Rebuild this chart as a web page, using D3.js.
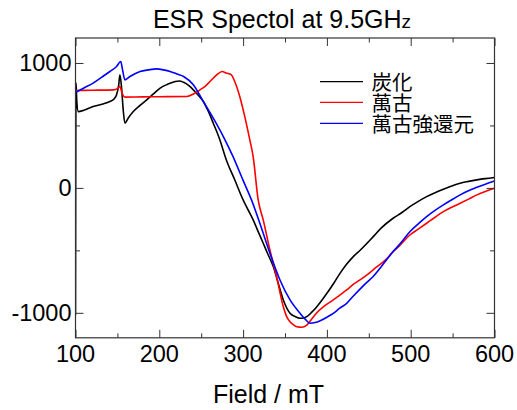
<!DOCTYPE html>
<html><head><meta charset="utf-8">
<script src="https://cdn.jsdelivr.net/npm/d3@7"></script>
<style>
html,body{margin:0;padding:0;background:#fff;}
svg{display:block;}
</style></head>
<body>
<script>
// ---- data ----
const seriesNames = ["炭化", "萬古", "萬古強還元"];
const seriesColors = ["#000000", "#ff0000", "#0000ff"];

const blackField = [100, 100.6, 101.5, 103.3, 110, 121, 133, 141, 146, 149, 151.5, 153, 155, 157, 159, 163, 169, 177, 185, 193, 201, 210, 219, 224, 229, 235, 240.6, 246, 252.5, 258, 264.4, 272, 280, 290, 300, 306, 312, 318, 324, 330, 336, 342, 348, 352, 356, 362, 368, 372, 376, 382, 388, 394, 400, 408, 415.6, 423, 431.5, 440, 448, 455, 465, 479, 490, 499, 509, 519, 529, 539, 549, 559, 569, 579, 589, 600];
const blackValue = [-1020, 841, 700, 611, 622, 651, 672, 692, 712, 745, 820, 905, 800, 620, 518, 560, 611, 660, 705, 752, 799, 830, 852, 856, 845, 820, 785, 745, 692, 620, 518, 390, 224, 65, -96, -176, -256, -350, -443, -537, -630, -765, -897, -960, -1004, -1030, -1044, -1042, -1031, -995, -951, -900, -844, -765, -684, -615, -550, -497, -442, -392, -320, -243, -195, -150, -108, -70, -38, -10, 15, 38, 52, 64, 74, 83];

const redField = [100, 120, 145, 150, 153, 155.5, 159, 180, 200, 233, 240.6, 248.6, 255, 260.5, 268.5, 275, 280, 286, 290, 296, 302, 308, 312, 318, 324, 332, 340, 348, 352, 356, 360, 364, 370, 376, 384, 390, 396, 407.6, 415, 423.6, 431, 439.5, 449, 459, 471, 479, 487, 499, 509, 519, 529, 539, 549, 559, 569, 579, 589, 600];
const redValue = [780, 782, 785, 795, 812, 760, 727, 729, 730, 732, 751, 785, 815, 852, 905, 932, 919, 905, 852, 732, 571, 385, 251, -96, -256, -497, -711, -951, -1030, -1071, -1095, -1111, -1115, -1098, -1031, -985, -951, -897, -860, -817, -775, -737, -690, -635, -570, -510, -460, -377, -330, -283, -235, -190, -155, -123, -90, -56, -28, -2];

const blueField = [100, 110, 121, 131, 141, 149, 154, 156, 159, 165, 177, 187, 197, 205, 213, 221, 229, 240.6, 252.5, 264.4, 276.4, 288, 300, 310, 320, 332, 344, 356, 368, 374, 380, 386, 392, 400, 407.6, 415, 423.6, 431, 439.5, 447, 455, 465, 471, 479, 487, 499, 509, 519, 529, 539, 549, 559, 569, 579, 589, 600];
const blueValue = [764, 800, 839, 885, 932, 972, 1012, 950, 865, 892, 932, 945, 953, 945, 932, 912, 892, 825, 692, 558, 411, 251, 60, -96, -283, -523, -737, -897, -1004, -1050, -1084, -1078, -1063, -1035, -1004, -965, -924, -870, -810, -760, -711, -630, -577, -510, -450, -351, -288, -230, -180, -136, -95, -56, -22, 5, 30, 55];

const xTicksMajor = [100, 200, 300, 400, 500, 600];
const xTicksMinor = [150, 250, 350, 450, 550];
const yTicksMajor = [-1000, 0, 1000];
const yTicksMinor = [-500, 500];
const titleMain = "ESR Spectol at 9.5GH";
const titleTail = "z";
const xLabel = "Field / mT";

// ---- layout ----
const W = 517, H = 410;
const L = 75.5, R = 494.5, T = 38, B = 337.8;
const x = d3.scaleLinear().domain([100, 600]).range([L, R]);
const y = d3.scaleLinear().domain([-1200, 1200]).range([B, T]);

const svg = d3.select("body").append("svg").attr("width", W).attr("height", H);
const sans = "'Liberation Sans', Arial, Helvetica, sans-serif";

// clip
svg.append("clipPath").attr("id", "clip").append("rect")
  .attr("x", L).attr("y", T).attr("width", R - L).attr("height", B - T);

const series = [
  {f: blackField, v: blackValue},
  {f: redField, v: redValue},
  {f: blueField, v: blueValue}
];

const line = d3.line().x(d => x(d[0])).y(d => y(d[1])).curve(d3.curveMonotoneX);
const g = svg.append("g").attr("clip-path", "url(#clip)");
series.forEach((s, i) => {
  const pts = s.f.map((f, j) => [f, s.v[j]]);
  g.append("path").attr("d", line(pts)).attr("fill", "none")
    .attr("stroke", seriesColors[i]).attr("stroke-width", 1.6)
    .attr("stroke-linejoin", "round");
});

// axes (ticks inward)
const axisColor = "#333";
function styleAxis(sel){
  sel.select(".domain").remove();
  sel.selectAll("line").attr("stroke", axisColor).attr("stroke-width", 1);
  sel.selectAll("text").remove();
}
const axes = [
  [d3.axisBottom(x).tickValues(xTicksMajor).tickSizeInner(-8).tickSizeOuter(0), `translate(0,${B})`],
  [d3.axisBottom(x).tickValues(xTicksMinor).tickSizeInner(-4.5).tickSizeOuter(0), `translate(0,${B})`],
  [d3.axisTop(x).tickValues(xTicksMajor).tickSizeInner(-8).tickSizeOuter(0), `translate(0,${T})`],
  [d3.axisTop(x).tickValues(xTicksMinor).tickSizeInner(-4.5).tickSizeOuter(0), `translate(0,${T})`],
  [d3.axisLeft(y).tickValues(yTicksMajor).tickSizeInner(-8).tickSizeOuter(0), `translate(${L},0)`],
  [d3.axisLeft(y).tickValues(yTicksMinor).tickSizeInner(-4.5).tickSizeOuter(0), `translate(${L},0)`],
  [d3.axisRight(y).tickValues(yTicksMajor).tickSizeInner(-8).tickSizeOuter(0), `translate(${R},0)`],
  [d3.axisRight(y).tickValues(yTicksMinor).tickSizeInner(-4.5).tickSizeOuter(0), `translate(${R},0)`]
];
axes.forEach(([ax, tr]) => {
  const a = svg.append("g").attr("transform", tr).call(ax);
  styleAxis(a);
});

// frame
svg.append("rect").attr("x", L).attr("y", T).attr("width", R - L).attr("height", B - T)
  .attr("fill", "none").attr("stroke", axisColor).attr("stroke-width", 1.2);

// tick labels
svg.append("g").selectAll("text").data(xTicksMajor).join("text")
  .attr("x", d => x(d)).attr("y", 361.5).attr("text-anchor", "middle")
  .attr("font-family", sans).attr("font-size", 23.5).attr("fill", "#000")
  .text(d => d);
svg.append("g").selectAll("text").data(yTicksMajor).join("text")
  .attr("x", 71.5).attr("y", d => y(d) + 8.5).attr("text-anchor", "end")
  .attr("font-family", sans).attr("font-size", 23.5).attr("fill", "#000")
  .text(d => d);

// title
const tt = svg.append("text").attr("x", 282).attr("y", 28).attr("text-anchor", "middle")
  .attr("font-family", sans).attr("font-size", 25).attr("fill", "#000");
tt.append("tspan").text(titleMain);
tt.append("tspan").attr("font-size", 19).text(titleTail);

// x label
svg.append("text").attr("x", 268.5).attr("y", 403).attr("text-anchor", "middle")
  .attr("font-family", sans).attr("font-size", 25).attr("fill", "#000").text(xLabel);

// legend
const lg = svg.append("g");
const legY = [81.7, 102.3, 123.3];
seriesNames.forEach((n, i) => {
  lg.append("line").attr("x1", 320).attr("x2", 363).attr("y1", legY[i]).attr("y2", legY[i])
    .attr("stroke", seriesColors[i]).attr("stroke-width", 1.2);
  lg.append("text").attr("x", 371.5).attr("y", legY[i] + 8.5)
    .attr("font-family", "'Noto Sans CJK JP', 'Noto Sans CJK TC', sans-serif")
    .attr("font-size", 20.5).attr("fill", "#000").text(n);
});
</script>
</body></html>
